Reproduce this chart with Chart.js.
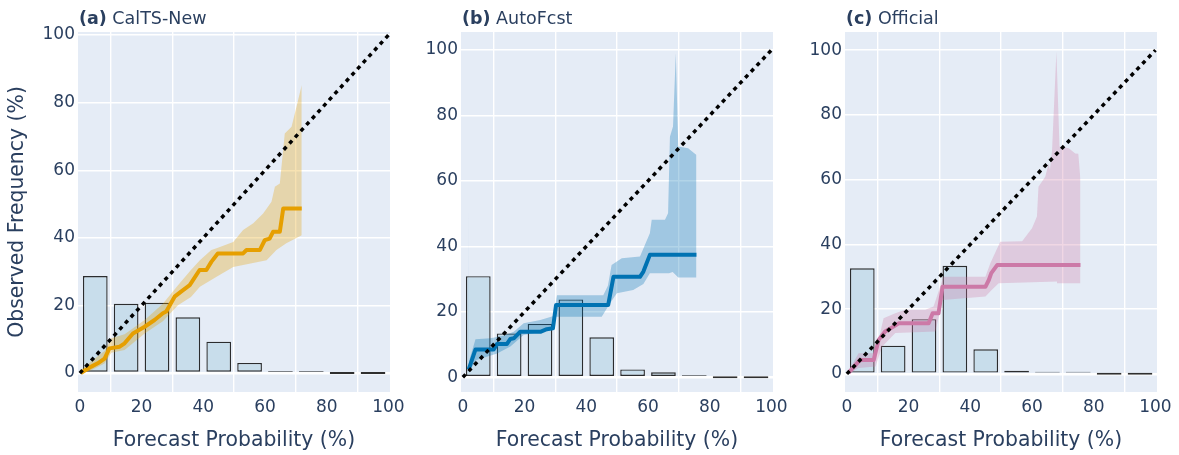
<!DOCTYPE html>
<html>
<head>
<meta charset="utf-8">
<script src="https://cdn.jsdelivr.net/npm/chart.js@4.4.1/dist/chart.umd.min.js"></script>
<style>
  html, body { margin: 0; padding: 0; background: #ffffff; }
  #wrap { position: relative; width: 1179px; height: 455px; overflow: hidden; }
  canvas { position: absolute; top: 0; }
</style>
</head>
<body>
<div id="wrap">
  <canvas id="cA" width="406" height="455" style="left:0px"></canvas>
  <canvas id="cB" width="384" height="455" style="left:406px"></canvas>
  <canvas id="cC" width="389" height="455" style="left:790px"></canvas>
</div>
<script>
// ---------- shared ----------
const binCenters = [5, 15, 25, 35, 45, 55, 65, 75, 85, 95];
const xTicks = [0, 20, 40, 60, 80, 100];
const yTicks = [0, 20, 40, 60, 80, 100];
const diagX = [0, 100];
const diagY = [0, 100];

// ---------- (a) CalTS-New ----------
const countsA = [28.7, 20.5, 20.8, 16.5, 9.3, 3.0, 0.6, 0.2, 0, 0];
const lineXA = [0.3, 3.7, 5.8, 8.0, 9.6, 12.9, 14.5, 17.2, 21.0, 24.2, 26.9, 28.0, 30.7, 32.8, 35.6, 38.8, 41.0, 42.6, 44.7, 52.9, 54.0, 58.3, 59.9, 61.5, 62.6, 64.8, 65.9, 71.9];
const lineYA = [0.0, 1.9, 2.9, 4.3, 7.3, 7.8, 8.8, 11.7, 13.7, 15.7, 17.7, 18.2, 22.6, 24.1, 26.0, 30.5, 30.5, 32.9, 35.4, 35.4, 36.4, 36.4, 39.3, 39.8, 41.8, 41.8, 48.7, 48.7];
const upXA = [0.3, 3.7, 8.0, 10.2, 14.5, 21.0, 26.9, 31.8, 36.0, 38.9, 42.6, 44.3, 49.7, 52.9, 56.2, 59.4, 62.1, 63.2, 64.8, 66.4, 68.6, 70.2, 71.9];
const upYA = [0.8, 3.5, 6.5, 10.3, 11.5, 15.7, 20.5, 26.0, 30.5, 33.4, 36.4, 36.9, 38.8, 42.3, 44.3, 47.2, 50.7, 55.1, 56.1, 70.9, 72.9, 78.8, 85.2];
const loXA = [0.3, 3.7, 8.0, 10.2, 14.5, 21.0, 26.9, 31.8, 36.0, 38.9, 44.3, 49.7, 60.5, 63.7, 66.9, 71.9];
const loYA = [0.0, 0.8, 2.8, 6.0, 6.8, 11.7, 15.3, 20.1, 22.5, 25.5, 28.5, 31.4, 33.4, 36.4, 38.4, 40.8];

// ---------- (b) AutoFcst ----------
const countsB = [30.9, 13.4, 16.3, 23.8, 12.2, 2.4, 1.5, 0.3, 0, 0];
const lineXB = [1.9, 4.1, 10.0, 11.1, 14.3, 15.4, 16.5, 18.6, 25.1, 27.2, 29.2, 30.2, 47.1, 48.8, 57.4, 58.5, 60.6, 75.7];
const lineYB = [2.4, 8.5, 8.5, 10.2, 10.2, 11.7, 11.9, 13.9, 13.9, 14.7, 15.0, 22.1, 22.1, 30.7, 30.7, 32.3, 37.4, 37.4];
const upXB = [1.8, 1.9, 2.0, 4.1, 8.9, 13.2, 16.5, 19.7, 25.1, 29.4, 30.5, 45.5, 47.0, 48.2, 51.5, 57.4, 60.6, 61.2, 65.5, 66.5, 67.1, 68.1, 69.0, 69.8, 73.0, 75.7];
const upYB = [3.5, 56.0, 5.0, 11.6, 11.9, 12.7, 13.9, 16.5, 17.5, 18.7, 25.1, 25.1, 28.0, 34.3, 36.4, 36.9, 44.0, 48.1, 48.1, 50.1, 73.5, 76.6, 99.0, 70.5, 70.0, 67.9];
const loXB = [1.8, 4.4, 11.1, 15.4, 19.7, 28.9, 29.9, 45.0, 47.7, 49.9, 55.2, 58.5, 60.6, 66.8, 68.0, 69.8, 75.7];
const loYB = [1.5, 5.3, 7.3, 9.4, 12.9, 14.5, 18.5, 18.5, 22.6, 25.7, 26.7, 28.5, 31.8, 31.8, 32.2, 30.5, 30.5];

// ---------- (c) Official ----------
const countsC = [32.6, 8.7, 16.9, 33.4, 7.6, 1.0, 0.4, 0.2, 0, 0];
const lineXC = [0.6, 4.3, 8.7, 10.3, 12.4, 15.1, 16.8, 26.5, 27.8, 29.7, 31.0, 44.9, 46.0, 46.8, 48.7, 75.7];
const lineYC = [0.4, 4.3, 4.3, 10.5, 13.1, 14.6, 15.6, 15.6, 18.7, 18.7, 26.9, 26.9, 29.0, 31.1, 33.6, 33.6];
const upXC = [0.6, 3.8, 9.3, 11.9, 15.7, 18.9, 25.4, 28.1, 31.3, 44.9, 46.5, 49.7, 56.8, 60.0, 61.6, 62.1, 64.3, 65.4, 65.8, 66.5, 67.9, 68.9, 71.9, 74.0, 75.0, 75.7];
const upYC = [1.0, 6.4, 6.4, 17.2, 18.7, 19.8, 19.8, 20.8, 30.0, 30.0, 34.2, 40.8, 41.0, 45.0, 48.6, 57.8, 60.9, 65.0, 63.0, 69.1, 99.5, 70.2, 69.7, 68.1, 68.0, 59.9];
const loXC = [0.6, 3.8, 9.3, 11.4, 15.7, 28.7, 31.0, 44.9, 47.0, 49.2, 68.1, 68.4, 75.7];
const loYC = [0.0, 1.8, 2.3, 8.4, 12.6, 13.1, 22.8, 23.9, 26.0, 28.0, 28.5, 28.0, 28.0];

// ---------- styling ----------
const FONT = '"DejaVu Sans", Verdana, sans-serif';
const TEXT = '#2a3f5f';
Chart.defaults.font.family = FONT;
Chart.defaults.color = TEXT;

const pts = (xs, ys) => xs.map((x, i) => ({ x: x, y: ys[i] }));

const bgPlugin = {
  id: 'plotBg',
  beforeDraw(chart) {
    const { ctx, chartArea: a } = chart;
    ctx.save();
    ctx.fillStyle = '#e5ecf6';
    ctx.fillRect(a.left, a.top, a.right - a.left, a.bottom - a.top);
    ctx.restore();
  }
};

const titlePlugin = {
  id: 'panelTitle',
  afterDraw(chart, args, opts) {
    const { ctx, chartArea: a } = chart;
    ctx.save();
    ctx.fillStyle = TEXT;
    ctx.textBaseline = 'alphabetic';
    ctx.textAlign = 'left';
    ctx.font = 'bold 17.5px ' + FONT;
    ctx.fillText(opts.tag, a.left + 1, 24);
    const w = ctx.measureText(opts.tag).width;
    ctx.font = '17.5px ' + FONT;
    ctx.fillText(' ' + opts.name, a.left + 1 + w, 24);
    ctx.restore();
  }
};

function makePanel(id, cfg) {
  const lineCol = cfg.color;
  const datasets = [
    {
      type: 'bar',
      data: pts(binCenters, cfg.counts),
      backgroundColor: '#c8ddeb',
      borderColor: 'rgba(10,10,10,0.85)',
      borderWidth: 1.4,
      borderSkipped: false,
      categoryPercentage: 1.0,
      barPercentage: 0.8,
      minBarLength: 2,
      order: 5
    },
    {
      type: 'line',
      data: pts(cfg.loX, cfg.loY),
      borderWidth: 0,
      pointRadius: 0,
      fill: false,
      tension: 0,
      order: 4
    },
    {
      type: 'line',
      data: pts(cfg.upX, cfg.upY),
      borderWidth: 0,
      pointRadius: 0,
      fill: '-1',
      backgroundColor: cfg.band,
      tension: 0,
      order: 3
    },
    {
      type: 'line',
      data: pts(cfg.lineX, cfg.lineY),
      borderColor: lineCol,
      borderWidth: 4,
      pointRadius: 0,
      fill: false,
      tension: 0,
      borderJoinStyle: 'round',
      order: 2
    },
    {
      type: 'line',
      data: pts(diagX, diagY),
      borderColor: '#000000',
      borderWidth: 3.5,
      borderDash: [4, 4.4],
      pointRadius: 0,
      fill: false,
      order: 1
    }
  ];

  const gridW = (c) => (c.tick && c.tick.value === 0 ? 2.6 : 1.4);

  return new Chart(document.getElementById(id), {
    type: 'bar',
    data: { datasets: datasets },
    options: {
      responsive: false,
      animation: false,
      devicePixelRatio: 1,
      layout: { padding: { top: 32, right: cfg.padRight, bottom: 0, left: 0 } },
      plugins: {
        legend: { display: false },
        tooltip: { enabled: false },
        title: { display: false },
        panelTitle: { tag: cfg.tag, name: cfg.name }
      },
      scales: {
        x: {
          type: 'linear',
          offset: false,
          min: -0.6,
          max: 100.5,
          afterBuildTicks: (s) => { s.ticks = xTicks.map(v => ({ value: v })); },
          afterFit: (s) => { s.height = 63; s.paddingLeft = 0; s.paddingRight = 0; },
          grid: { color: '#ffffff', lineWidth: gridW, drawTicks: false },
          border: { display: false },
          ticks: { font: { size: 17 }, color: TEXT, padding: 5, maxRotation: 0, autoSkip: false },
          title: { display: true, text: 'Forecast Probability (%)', font: { size: 20.4 }, color: TEXT, padding: { top: 0, bottom: 2 } }
        },
        y: {
          type: 'linear',
          min: cfg.yMin,
          max: cfg.yMax,
          afterBuildTicks: (s) => { s.ticks = yTicks.map(v => ({ value: v })); },
          afterFit: (s) => { s.width = cfg.yWidth; s.paddingTop = 0; s.paddingBottom = 0; },
          grid: { color: '#ffffff', lineWidth: gridW, drawTicks: false },
          border: { display: false },
          ticks: { font: { size: 17 }, color: TEXT, padding: 3, autoSkip: false },
          title: { display: cfg.yTitle, text: 'Observed Frequency (%)', font: { size: 20.4 }, color: TEXT, padding: { top: 5, bottom: 0 } }
        }
      }
    },
    plugins: [bgPlugin, titlePlugin]
  });
}

makePanel('cA', {
  tag: '(a)', name: 'CalTS-New', color: '#e69f00', band: 'rgba(230,159,0,0.3)',
  counts: countsA, lineX: lineXA, lineY: lineYA, upX: upXA, upY: upYA, loX: loXA, loY: loYA,
  yMin: -5.6, yMax: 100.9, yWidth: 78, padRight: 16, yTitle: true
});
makePanel('cB', {
  tag: '(b)', name: 'AutoFcst', color: '#0072b2', band: 'rgba(0,114,178,0.3)',
  counts: countsB, lineX: lineXB, lineY: lineYB, upX: upXB, upY: upYB, loX: loXB, loY: loYB,
  yMin: -4.5, yMax: 105.5, yWidth: 55, padRight: 17, yTitle: false
});
makePanel('cC', {
  tag: '(c)', name: 'Official', color: '#cc79a7', band: 'rgba(204,121,167,0.3)',
  counts: countsC, lineX: lineXC, lineY: lineYC, upX: upXC, upY: upYC, loX: loXC, loY: loYC,
  yMin: -5.6, yMax: 105.6, yWidth: 55, padRight: 22, yTitle: false
});
</script>
</body>
</html>
